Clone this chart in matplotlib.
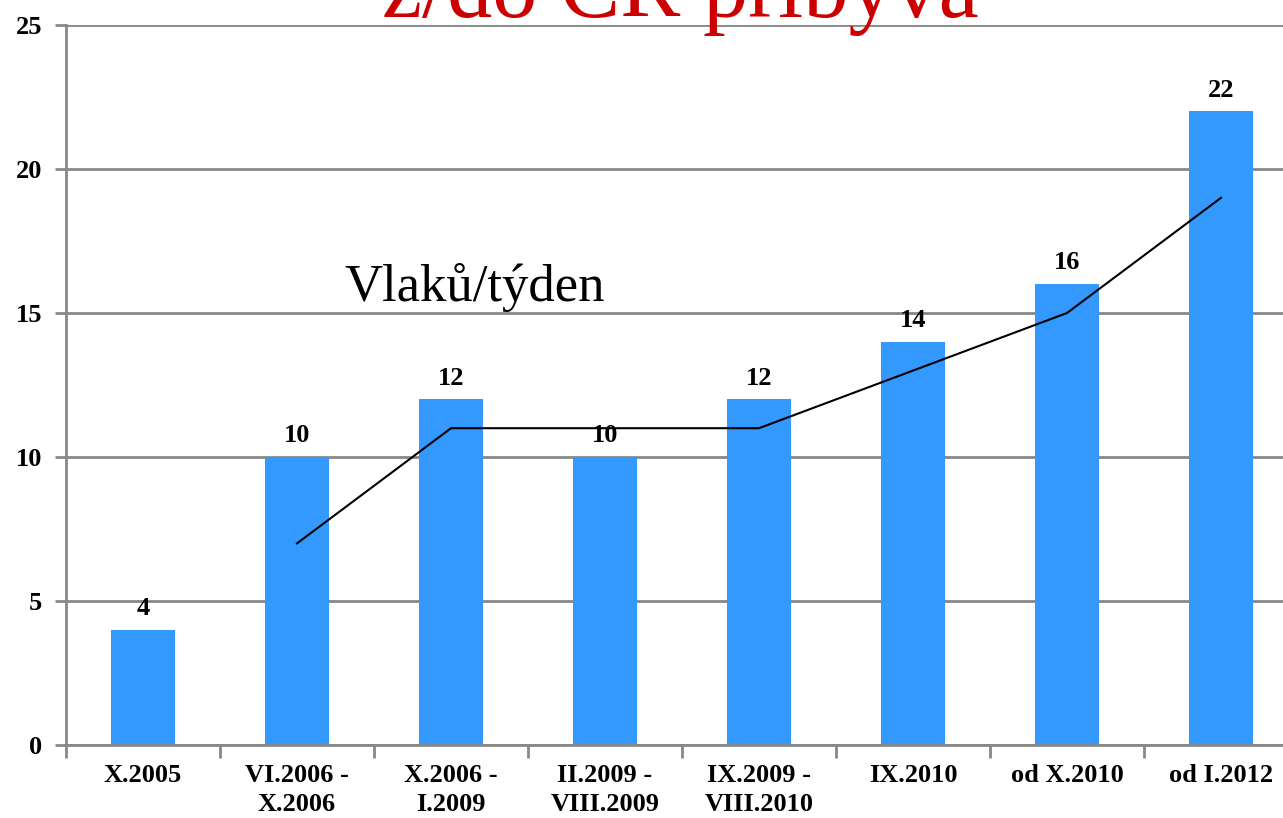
import numpy as np
import matplotlib.pyplot as plt

# categories and values
periods = ["X.2005", "VI.2006 -\nX.2006", "X.2006 -\nI.2009", "II.2009 -\nVIII.2009",
           "IX.2009 -\nVIII.2010", "IX.2010", "od X.2010", "od I.2012"]
trains = [4, 10, 12, 10, 12, 14, 16, 22]
# 2-period moving average trend
trend = [(trains[i - 1] + trains[i]) / 2 for i in range(1, len(trains))]

plt.rcParams['font.family'] = ['Liberation Serif', 'DejaVu Serif']

fig = plt.figure(figsize=(12.83, 8.18), dpi=100)
ax = fig.add_axes([66 / 1283, 73 / 818, 1232 / 1283, 720 / 818])

x = np.arange(len(trains))
ax.bar(x, trains, width=0.41, color='#3399FF', zorder=2)
ax.plot(x[1:], trend, color='black', lw=1.5, zorder=4)

for xi, v in zip(x, trains):
    ax.annotate(str(v), (xi, v), xytext=(0, 7), textcoords='offset points',
                ha='center', va='bottom', fontsize=19, fontweight='bold', zorder=3)

ax.set_xlim(-0.5, len(trains) - 0.5)
ax.set_ylim(0, 25)
ax.set_yticks([0, 5, 10, 15, 20, 25])
ax.set_xticks(x)
ax.set_xticklabels(periods, fontsize=19, fontweight='bold', linespacing=1.3)
ax.set_xticks(np.arange(-0.5, len(trains)), minor=True)
ax.tick_params(axis='x', which='major', length=0, pad=14)
ax.tick_params(axis='x', which='minor', length=9, width=2, color='#888888')
ax.tick_params(axis='y', length=8, width=2, color='#888888', pad=9, labelsize=19)
for lab in ax.get_yticklabels():
    lab.set_fontweight('bold')

ax.yaxis.grid(True, color='#888888', lw=2, zorder=0)
ax.set_axisbelow(True)
for s in ['top', 'right']:
    ax.spines[s].set_visible(False)
for s in ['left', 'bottom']:
    ax.spines[s].set_color('#888888')
    ax.spines[s].set_linewidth(2)

ax.text(1.31, 15.9, "Vlaků/týden", fontsize=38, va='center', ha='left')

fig.text(680 / 1283, (818 - 17) / 818, "z/do ČR přibývá", color='#CC0000',
         fontsize=65, ha='center', va='baseline')

fig.savefig('out.png', dpi=100)
